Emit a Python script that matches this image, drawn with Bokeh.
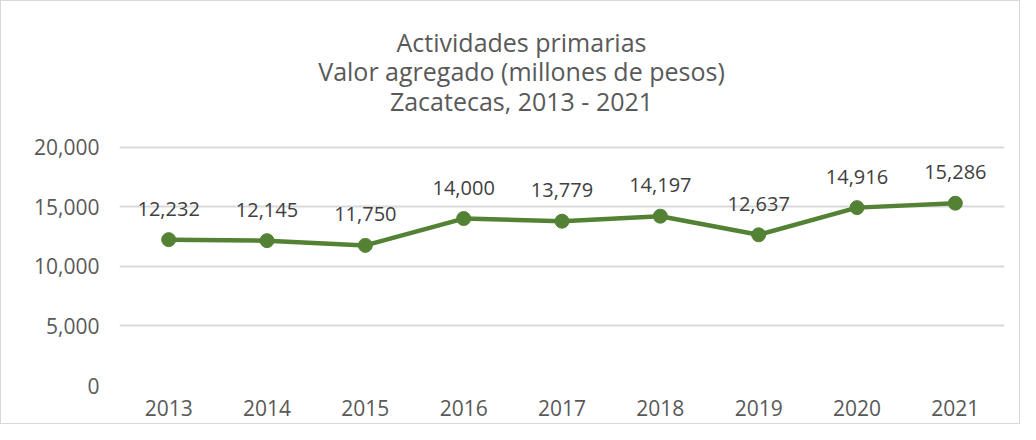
from bokeh.plotting import figure
from bokeh.models import ColumnDataSource, LabelSet, Label, NumeralTickFormatter, FixedTicker, Range1d
from bokeh.core.properties import value
from bokeh.embed import file_html
from bokeh.resources import INLINE

years = ["2013", "2014", "2015", "2016", "2017", "2018", "2019", "2020", "2021"]
values = [12232, 12145, 11750, 14000, 13779, 14197, 12637, 14916, 15286]
y_ticks = [0, 5000, 10000, 15000, 20000]
title_lines = ["Actividades primarias", "Valor agregado (millones de pesos)", "Zacatecas, 2013 - 2021"]

GREEN = "#548235"
GREY = "#595959"
FONT = "Open Sans"

# layout (pixels): the frame reaches up to the title area so the title labels are not clipped
W, H = 1020, 424
LEFT, RIGHT, BOTTOM, TOP = 118, 17, 40, 4
AXIS_TOP_PX = 238.5          # pixel height of the 0..20000 span
frame_h = H - BOTTOM - TOP
y_end = y_ticks[-1] * frame_h / AXIS_TOP_PX

src = ColumnDataSource(dict(x=years, y=values, lab=[f"{v:,}" for v in values]))

p = figure(x_range=years, y_range=Range1d(0, y_end), width=W, height=H,
           output_backend="svg", toolbar_location=None,
           min_border_left=LEFT, min_border_right=RIGHT, min_border_top=TOP, min_border_bottom=BOTTOM)
p.styles = {"border": "1px solid #d9d9d9"}
p.outline_line_color = None
p.xgrid.grid_line_color = None
p.ygrid.grid_line_color = "#d9d9d9"
p.ygrid.grid_line_width = 2

p.yaxis.ticker = FixedTicker(ticks=y_ticks)
p.yaxis.formatter = NumeralTickFormatter(format="0,0")
for ax in (p.xaxis, p.yaxis):
    ax.axis_line_color = None
    ax.major_tick_line_color = None
    ax.minor_tick_line_color = None
    ax.major_tick_out = 0
    ax.major_tick_in = 0
    ax.major_label_text_font = FONT
    ax.major_label_text_font_size = "21px"
    ax.major_label_text_color = GREY
p.yaxis.major_label_standoff = 20
p.xaxis.major_label_standoff = 14

p.line("x", "y", source=src, line_color=GREEN, line_width=4.5)
p.scatter("x", "y", source=src, size=14, fill_color=GREEN, line_color=GREEN)

labels = LabelSet(x="x", y="y", text="lab", source=src, y_offset=24,
                  text_align="center", text_baseline="alphabetic",
                  text_font=value(FONT), text_font_size=value("20px"), text_color="#404040")
p.add_layout(labels)

for i, t in enumerate(title_lines):
    p.add_layout(Label(x=402, y=344 - i * 29.5, x_units="screen", y_units="screen",
                       text=t, text_align="center", text_baseline="alphabetic",
                       text_font=FONT, text_font_size="25px", text_color=GREY))

open("out.html", "w").write(file_html(p, INLINE))
